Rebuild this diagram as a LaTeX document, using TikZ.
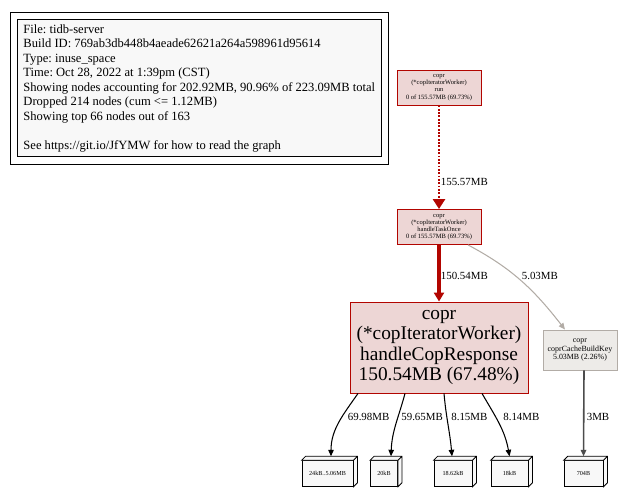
\documentclass[tikz,border=0pt]{standalone}
\usepackage{fontspec}
\setmainfont{Liberation Serif}
\frenchspacing
\usetikzlibrary{arrows.meta,positioning,fit}
\definecolor{pfred}{HTML}{B20500}
\definecolor{pfpink}{HTML}{EDD6D5}
\definecolor{pfgray}{HTML}{B2ACA6}
\definecolor{pfsand}{HTML}{EDEBE8}
\definecolor{pfpaper}{HTML}{F8F8F8}

\tikzset{
  funcnode/.style={draw=pfred, fill=pfpink, line width=0.5pt, inner sep=0pt, align=center},
  smallfunc/.style={funcnode, minimum width=1.68cm, minimum height=0.70cm,
    font=\fontsize{3.7}{4.1}\selectfont},
  memnode/.style={draw=black, fill=pfpaper, line width=0.5pt, minimum height=0.51cm,
    inner sep=0pt, font=\fontsize{3.5}{4}\selectfont},
  flowedge/.style={-{Triangle[length=0.13cm,width=0.11cm]}, line width=0.6pt},
  edgelabel/.style={font=\fontsize{6.2}{7}\selectfont, anchor=west, inner sep=0pt},
}

\begin{document}
\begin{tikzpicture}
\useasboundingbox (0,0) rectangle (12.74,10);

% --- Legend ---
\node[draw=black, fill=pfpaper, line width=0.5pt, anchor=north west,
  inner xsep=0.12cm, inner ysep=0.1cm, align=left,
  font=\fontsize{7.15}{8.25}\selectfont]
  (legend) at (0.34,9.62) {%
  File: tidb-server\\
  Build ID: 769ab3db448b4aeade62621a264a598961d95614\\
  Type: inuse\_space\\
  Time: Oct 28, 2022 at 1:39pm (CST)\\
  Showing nodes accounting for 202.92MB, 90.96\% of 223.09MB total\\
  Dropped 214 nodes (cum <= 1.12MB)\\
  Showing top 66 nodes out of 163\\[8.25pt]
  See https://git.io/JfYMW for how to read the graph};
\node[draw=black, line width=0.5pt, fit=(legend), inner sep=0.14cm] (frame) {};

% --- copr (*copIteratorWorker) run ---
\node[smallfunc] (run) at (8.78,8.25) {%
  copr\\(*copIteratorWorker)\\run\\0 of 155.57MB (69.73\%)};

% --- copr (*copIteratorWorker) handleTaskOnce ---
\node[smallfunc] (task) at (8.78,5.46) {%
  copr\\(*copIteratorWorker)\\handleTaskOnce\\0 of 155.57MB (69.73\%)};

% --- copr (*copIteratorWorker) handleCopResponse ---
\node[funcnode, minimum width=3.56cm, minimum height=1.82cm,
  font=\fontsize{11}{11.6}\selectfont]
  (resp) at (8.78,3.05) {%
  copr\\(*copIteratorWorker)\\handleCopResponse\\150.54MB (67.48\%)};

% --- copr coprCacheBuildKey ---
\node[funcnode, draw=pfgray, fill=pfsand, minimum width=1.48cm, minimum height=0.80cm,
  font=\fontsize{4.5}{4.9}\selectfont]
  (key) at (11.6,3.0) {%
  copr\\coprCacheBuildKey\\5.03MB (2.26\%)};

% --- Allocation sizes ---
\node[memnode, minimum width=1.02cm] (m1) at (6.55,0.53) {24kB..5.06MB};
\node[memnode, minimum width=0.54cm] (m2) at (7.68,0.53) {20kB};
\node[memnode, minimum width=0.76cm] (m3) at (9.06,0.53) {18.62kB};
\node[memnode, minimum width=0.74cm] (m4) at (10.19,0.53) {18kB};
\node[memnode, minimum width=0.78cm] (m5) at (11.67,0.53) {704B};

% box depth
\foreach \m in {m1,m2,m3,m4,m5}
  \draw[fill=pfpaper, line width=0.5pt]
    (\m.north west) -- ++(0.08,0.08) -- ([shift={(0.08,0.08)}]\m.north east)
    -- ([shift={(0.08,0.08)}]\m.south east) -- (\m.south east) -- (\m.north east) -- cycle
    (\m.north east) -- ++(0.08,0.08);

% Arrow run -> handleTaskOnce
\draw[pfred, line width=1.6pt, dash pattern=on 1.1pt off 0.8pt,
  -{Triangle[length=0.2cm,width=0.24cm]}] (run) -- (task);
\node[edgelabel] (l1) at (8.81,6.36) {155.57MB};

% Arrow handleTaskOnce -> handleCopResponse
\draw[pfred, line width=2.3pt, -{Triangle[length=0.18cm,width=0.2cm]}] (task) -- (resp);
\node[edgelabel] (l2) at (8.81,4.48) {150.54MB};

% Arrow handleTaskOnce -> coprCacheBuildKey
\draw[pfgray, flowedge] ([xshift=0.58cm]task.south) to[out=-28,in=128] ([xshift=-0.3cm]key.north);
\node[edgelabel] (l3) at (10.43,4.48) {5.03MB};

% Arrows handleCopResponse -> sizes
\draw[flowedge] ([xshift=-1.62cm]resp.south) to[out=-125,in=90] ([xshift=0.07cm,yshift=0.08cm]m1.north);
\node[edgelabel] (l4) at (6.95,1.66) {69.98MB};
\draw[flowedge] ([xshift=-0.68cm]resp.south) to[out=-105,in=88] ([xshift=0.14cm,yshift=0.08cm]m2.north);
\node[edgelabel] (l5) at (8.02,1.66) {59.65MB};
\draw[flowedge] ([xshift=0.1cm]resp.south) to[out=-85,in=95] ([xshift=-0.02cm,yshift=0.08cm]m3.north);
\node[edgelabel] (l6) at (9.02,1.66) {8.15MB};
\draw[flowedge] ([xshift=0.86cm]resp.south) to[out=-60,in=100] ([yshift=0.08cm]m4.north);
\node[edgelabel] (l7) at (10.06,1.66) {8.14MB};

% Arrow coprCacheBuildKey -> 704B
\draw[flowedge, black!70, line width=0.9pt] ([xshift=0.08cm]key.south) -- ([yshift=0.08cm]m5.north);
\node[edgelabel] (l8) at (11.73,1.66) {3MB};

\end{tikzpicture}
\end{document}
